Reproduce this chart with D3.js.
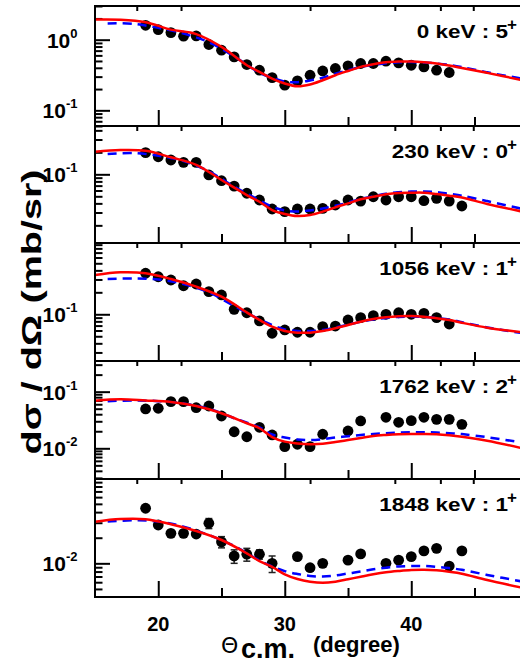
<!DOCTYPE html>
<html>
<head>
<meta charset="utf-8">
<script src="https://cdn.jsdelivr.net/npm/d3@7"></script>
<style>
  body { margin: 0; background: #fff; }
  svg { display: block; font-family: "Liberation Sans", Arial, sans-serif; }
</style>
</head>
<body>
<svg id="chart"></svg>
<script>
const width = 520;
const height = 663;

// panel labels (level : spin-parity)
const levelLabels = ["0 keV : 5", "230 keV : 0", "1056 keV : 1", "1762 keV : 2", "1848 keV : 1"];

// experimental angles (deg, c.m.)
const p1Ang = [19, 20, 21, 22, 23, 24, 25, 26, 27, 28, 29, 30, 31, 32, 33, 34, 35, 36, 37, 38, 39, 40, 41, 42, 43];
const p2Ang = [19, 20, 21, 22, 23, 24, 25, 26, 27, 28, 29, 30, 31, 32, 33, 34, 35, 36, 37, 38, 39, 40, 41, 42, 43, 44];
const p3Ang = [19, 20, 21, 22, 23, 24, 25, 26, 27, 28, 29, 30, 31, 32, 33, 34, 35, 36, 37, 38, 39, 40, 41, 42, 43];
const p4Ang = [19, 20, 21, 22, 23, 24, 25, 26, 27, 28, 29, 30, 31, 32, 33, 35, 36, 38, 39, 40, 41, 42, 43, 44];
const p5Ang = [19, 20, 21, 22, 23, 24, 25, 26, 27, 28, 29, 31, 32, 33, 35, 36, 38, 39, 40, 41, 42, 43, 44];

// experimental cross sections (mb/sr)
const p1Exp = [1.60, 1.39, 1.26, 1.12, 1.13, 0.855, 0.71, 0.57, 0.445, 0.37, 0.29, 0.227, 0.261, 0.314, 0.361, 0.391, 0.426, 0.46, 0.46, 0.496, 0.469, 0.435, 0.412, 0.37, 0.343];
const p2Exp = [0.198, 0.174, 0.157, 0.146, 0.146, 0.098, 0.0817, 0.069, 0.055, 0.0445, 0.0335, 0.0308, 0.0335, 0.0335, 0.0342, 0.038, 0.0445, 0.043, 0.0493, 0.0445, 0.0493, 0.0493, 0.0435, 0.0469, 0.043, 0.0368];
const p3Exp = [0.365, 0.327, 0.295, 0.246, 0.26, 0.204, 0.184, 0.117, 0.105, 0.081, 0.055, 0.061, 0.0567, 0.0567, 0.0676, 0.069, 0.0836, 0.0898, 0.0957, 0.1, 0.105, 0.1, 0.103, 0.0898, 0.0736];
const p4Exp = [0.0495, 0.0509, 0.0666, 0.0666, 0.0521, 0.0558, 0.0372, 0.0196, 0.016, 0.0235, 0.0172, 0.0107, 0.0118, 0.0107, 0.0177, 0.0202, 0.0304, 0.0353, 0.0288, 0.0308, 0.0353, 0.0325, 0.0325, 0.0265];
const p5Exp = [0.0444, 0.0282, 0.0225, 0.0225, 0.0221, 0.0296, 0.0179, 0.0122, 0.0128, 0.0128, 0.01, 0.012, 0.00888, 0.01, 0.0109, 0.0129, 0.01, 0.0109, 0.012, 0.014, 0.015, 0.00929, 0.014];
const p5Err = [0.002, 0.0015, 0.0012, 0.0012, 0.0012, 0.004, 0.0027, 0.0022, 0.0022, 0.0016, 0.0022, 0.0008, 0.0007, 0.0008, 0.0008, 0.0009, 0.0008, 0.0008, 0.0009, 0.001, 0.001, 0.0007, 0.001];

// calculations: red solid and blue dashed
const redAng = [15, 17, 19, 21, 23, 25, 27, 28, 29, 30, 31, 32, 33, 34, 35, 36, 37, 38, 39, 40, 41, 42, 43, 44, 46, 48.8];
const blueAng = [16, 18, 20, 22, 24, 26, 28, 29, 30, 31, 32, 33, 34, 35, 36, 37, 38, 39, 40, 41, 42, 43, 44, 46, 48.8];

const p1Red = [1.93, 1.92, 1.77, 1.39, 1.20, 0.79, 0.435, 0.35, 0.282, 0.24, 0.219, 0.232, 0.267, 0.314, 0.361, 0.412, 0.45, 0.48, 0.491, 0.491, 0.48, 0.46, 0.43, 0.398, 0.339, 0.267];
const p1Blue = [1.70, 1.68, 1.47, 1.22, 0.92, 0.58, 0.34, 0.29, 0.255, 0.25, 0.265, 0.29, 0.33, 0.37, 0.41, 0.44, 0.465, 0.478, 0.482, 0.475, 0.46, 0.44, 0.41, 0.345, 0.28];
const p2Red = [0.204, 0.215, 0.21, 0.171, 0.135, 0.0836, 0.052, 0.0421, 0.0324, 0.0286, 0.0268, 0.0277, 0.0308, 0.0353, 0.04, 0.0455, 0.0493, 0.0532, 0.0555, 0.056, 0.056, 0.0537, 0.051, 0.048, 0.0393, 0.0308];
const p2Blue = [0.19, 0.195, 0.18, 0.152, 0.11, 0.068, 0.044, 0.036, 0.032, 0.031, 0.032, 0.034, 0.037, 0.041, 0.046, 0.05, 0.054, 0.057, 0.058, 0.058, 0.057, 0.054, 0.051, 0.043, 0.0335];
const p3Red = [0.345, 0.376, 0.365, 0.304, 0.239, 0.174, 0.106, 0.0836, 0.0676, 0.059, 0.056, 0.056, 0.059, 0.0643, 0.0713, 0.0792, 0.0862, 0.0909, 0.0939, 0.0948, 0.0927, 0.0882, 0.0836, 0.0767, 0.0656, 0.0567];
const p3Blue = [0.305, 0.31, 0.30, 0.26, 0.2, 0.13, 0.085, 0.071, 0.062, 0.059, 0.059, 0.061, 0.066, 0.072, 0.079, 0.085, 0.089, 0.092, 0.093, 0.092, 0.089, 0.085, 0.078, 0.066, 0.055];
const p4Red = [0.0693, 0.0734, 0.07, 0.0658, 0.0558, 0.0415, 0.0277, 0.0226, 0.0158, 0.0131, 0.0122, 0.0118, 0.012, 0.0129, 0.014, 0.0152, 0.0165, 0.0172, 0.0177, 0.0179, 0.0179, 0.0177, 0.017, 0.016, 0.0136, 0.01];
const p4Blue = [0.068, 0.07, 0.068, 0.062, 0.05, 0.034, 0.0235, 0.0175, 0.0155, 0.0143, 0.014, 0.0145, 0.0155, 0.0163, 0.0172, 0.0179, 0.0185, 0.019, 0.0192, 0.0192, 0.019, 0.0185, 0.0178, 0.0157, 0.0126];
const p5Red = [0.0309, 0.0332, 0.033, 0.0288, 0.024, 0.0188, 0.0131, 0.0106, 0.0091, 0.00743, 0.00654, 0.00608, 0.0059, 0.00608, 0.0065, 0.00696, 0.00743, 0.00784, 0.00812, 0.00834, 0.0084, 0.00827, 0.00796, 0.00755, 0.00636, 0.00516];
const p5Blue = [0.031, 0.032, 0.031, 0.027, 0.0215, 0.016, 0.0108, 0.0092, 0.0081, 0.0075, 0.0071, 0.007, 0.0072, 0.0076, 0.008, 0.0085, 0.0089, 0.0092, 0.0093, 0.0093, 0.0091, 0.0088, 0.0084, 0.0073, 0.0061];

// axes
const xDomain = [15, 48.8];
const xMajor = [20, 30, 40];
const xMinor = [25, 35, 45];
const xTopTicks = [18.3, 21.8, 32.0, 38.7, 42.3, 44.9];
const yDomains = [[0.06, 3], [0.01146, 0.459], [0.0229, 0.948], [0.00287, 0.348], [0.00402, 0.098]];

const panelEdges = [6, 126, 243, 361, 479, 597];
const left = 95;
const right = 522.6;

const panels = [
  { ang: p1Ang, exp: p1Exp, red: p1Red, blue: p1Blue },
  { ang: p2Ang, exp: p2Exp, red: p2Red, blue: p2Blue },
  { ang: p3Ang, exp: p3Exp, red: p3Red, blue: p3Blue },
  { ang: p4Ang, exp: p4Exp, red: p4Red, blue: p4Blue },
  { ang: p5Ang, exp: p5Exp, red: p5Red, blue: p5Blue, err: p5Err },
];

const svg = d3.select("#chart").attr("width", width).attr("height", height);

const x = d3.scaleLinear().domain(xDomain).range([left, right]);

panels.forEach((p, i) => {
  const top = panelEdges[i];
  const bottom = panelEdges[i + 1];
  const y = d3.scaleLog().domain(yDomains[i]).range([bottom, top]);
  const g = svg.append("g").attr("class", "panel");

  // y ticks, major and minor
  const all = y.ticks();
  const major = all.filter((t) => Math.abs(Math.log10(t) - Math.round(Math.log10(t))) < 1e-6);
  const minor = all.filter((t) => !major.includes(t));

  g.append("g")
    .attr("transform", `translate(${left},0)`)
    .call(d3.axisRight(y).tickValues(minor).tickSize(7.5).tickFormat(""))
    .call((a) => a.select(".domain").remove());
  g.append("g")
    .attr("transform", `translate(${left},0)`)
    .call(d3.axisRight(y).tickValues(major).tickSize(15).tickFormat(""))
    .call((a) => a.select(".domain").remove());

  // x ticks at bottom (pointing up) and small ones on top
  g.append("g")
    .attr("transform", `translate(0,${bottom})`)
    .call(d3.axisTop(x).tickValues(xMajor).tickSize(16).tickFormat(""))
    .call((a) => a.select(".domain").remove());
  g.append("g")
    .attr("transform", `translate(0,${bottom})`)
    .call(d3.axisTop(x).tickValues(xMinor).tickSize(9).tickFormat(""))
    .call((a) => a.select(".domain").remove());
  g.append("g")
    .attr("transform", `translate(0,${top})`)
    .call(d3.axisBottom(x).tickValues(xTopTicks).tickSize(5).tickFormat(""))
    .call((a) => a.select(".domain").remove());

  g.selectAll(".tick line").attr("stroke", "#000").attr("stroke-width", 2);

  // y tick labels 10^n
  major.forEach((t) => {
    const e = Math.round(Math.log10(t));
    const txt = g.append("text")
      .attr("x", 77.5)
      .attr("y", y(t) + 8)
      .attr("text-anchor", "end")
      .attr("font-weight", "bold")
      .attr("font-size", 21);
    txt.append("tspan").text("10");
    txt.append("tspan")
      .attr("dy", -10)
      .attr("font-size", 13)
      .text(e === 0 ? "0" : "-" + Math.abs(e));
  });

  // error bars
  if (p.err) {
    const eb = g.append("g").attr("stroke", "#222").attr("stroke-width", 1.5);
    p.ang.forEach((a, k) => {
      const y0 = y(p.exp[k] - p.err[k]);
      const y1 = y(p.exp[k] + p.err[k]);
      eb.append("line").attr("x1", x(a)).attr("x2", x(a)).attr("y1", y0).attr("y2", y1);
      eb.append("line").attr("x1", x(a) - 3.5).attr("x2", x(a) + 3.5).attr("y1", y0).attr("y2", y0);
      eb.append("line").attr("x1", x(a) - 3.5).attr("x2", x(a) + 3.5).attr("y1", y1).attr("y2", y1);
    });
  }

  // data points
  g.append("g")
    .selectAll("circle")
    .data(p.ang.map((a, k) => [a, p.exp[k]]))
    .join("circle")
    .attr("cx", (d) => x(d[0]))
    .attr("cy", (d) => y(d[1]))
    .attr("r", 5.4)
    .attr("fill", "#000");

  // curves
  const line = d3.line()
    .x((d) => x(d[0]))
    .y((d) => y(d[1]))
    .curve(d3.curveCatmullRom);

  g.append("path")
    .attr("d", line(blueAng.map((a, k) => [a, p.blue[k]])))
    .attr("fill", "none")
    .attr("stroke", "#0000ff")
    .attr("stroke-width", 2.5)
    .attr("stroke-dasharray", "9,6");

  g.append("path")
    .attr("d", line(redAng.map((a, k) => [a, p.red[k]])))
    .attr("fill", "none")
    .attr("stroke", "#ff0000")
    .attr("stroke-width", 2.5);

  // level label
  const lab = g.append("g").attr("transform", `translate(508,${top + 32}) scale(1.21,1)`);
  lab.append("text")
    .attr("text-anchor", "end")
    .attr("font-weight", "bold")
    .attr("font-size", 18.6)
    .text(levelLabels[i]);
  g.append("text")
    .attr("x", 507)
    .attr("y", top + 24)
    .attr("font-weight", "bold")
    .attr("font-size", 17)
    .text("+");
});

// frame
svg.append("line")
  .attr("x1", left).attr("x2", left)
  .attr("y1", panelEdges[0] - 1).attr("y2", panelEdges[5] + 1)
  .attr("stroke", "#000").attr("stroke-width", 2);
svg.append("g")
  .selectAll("line")
  .data(panelEdges)
  .join("line")
  .attr("x1", left).attr("x2", width)
  .attr("y1", (d) => d).attr("y2", (d) => d)
  .attr("stroke", "#000").attr("stroke-width", 2);

// x tick labels
svg.append("g")
  .selectAll("text")
  .data(xMajor)
  .join("text")
  .attr("x", (d) => x(d))
  .attr("y", 631)
  .attr("text-anchor", "middle")
  .attr("font-weight", "bold")
  .attr("font-size", 20)
  .text((d) => d);

// x axis title
svg.append("text")
  .attr("x", 221).attr("y", 653)
  .attr("font-family", "DejaVu Sans")
  .attr("font-size", 22)
  .text("Θ");
svg.append("text")
  .attr("x", 241).attr("y", 658)
  .attr("font-weight", "bold")
  .attr("font-size", 27)
  .text("c.m.");
svg.append("text")
  .attr("x", 313).attr("y", 652)
  .attr("font-weight", "bold")
  .attr("font-size", 22)
  .text("(degree)");

// y axis title
svg.append("text")
  .attr("transform", "translate(41,312) rotate(-90)")
  .attr("text-anchor", "middle")
  .attr("font-weight", "bold")
  .attr("font-size", 28)
  .attr("textLength", 285)
  .attr("lengthAdjust", "spacingAndGlyphs")
  .text("dσ / dΩ (mb/sr)");
</script>
</body>
</html>
